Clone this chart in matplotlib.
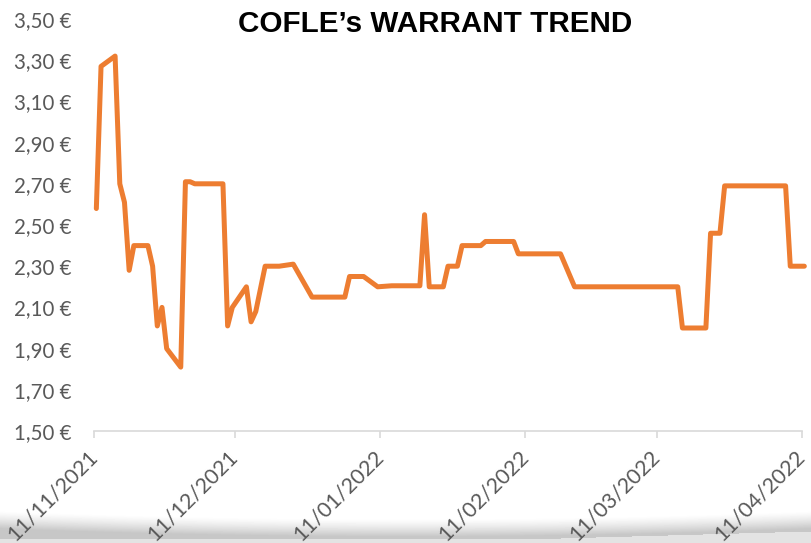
import datetime as dt
import numpy as np
import matplotlib
matplotlib.use("Agg")
import matplotlib.pyplot as plt
from matplotlib.transforms import ScaledTranslation

plt.rcParams['font.family'] = ['Lato', 'DejaVu Sans']

# warrant price
dates = ['2021-11-11', '2021-11-12', '2021-11-15', '2021-11-16', '2021-11-17',
         '2021-11-18', '2021-11-19', '2021-11-22', '2021-11-23', '2021-11-24',
         '2021-11-25', '2021-11-26', '2021-11-29', '2021-11-30', '2021-12-01',
         '2021-12-02', '2021-12-08', '2021-12-09', '2021-12-10', '2021-12-13',
         '2021-12-14', '2021-12-15', '2021-12-17', '2021-12-20', '2021-12-23',
         '2021-12-27', '2022-01-03', '2022-01-04', '2022-01-07', '2022-01-10',
         '2022-01-13', '2022-01-19', '2022-01-20', '2022-01-21', '2022-01-24',
         '2022-01-25', '2022-01-27', '2022-01-28', '2022-02-01', '2022-02-02',
         '2022-02-08', '2022-02-09', '2022-02-18', '2022-02-21', '2022-03-15',
         '2022-03-16', '2022-03-21', '2022-03-22', '2022-03-24', '2022-03-25',
         '2022-04-07', '2022-04-08', '2022-04-11']
prices = [2.58, 3.27, 3.32, 2.70, 2.61,
          2.28, 2.40, 2.40, 2.30, 2.01,
          2.10, 1.90, 1.81, 2.71, 2.71,
          2.70, 2.70, 2.01, 2.10, 2.20,
          2.03, 2.08, 2.30, 2.30, 2.31,
          2.15, 2.15, 2.25, 2.25, 2.20,
          2.205, 2.205, 2.55, 2.20, 2.20,
          2.30, 2.30, 2.40, 2.40, 2.42,
          2.42, 2.36, 2.36, 2.20, 2.20,
          2.00, 2.00, 2.46, 2.46, 2.69,
          2.69, 2.30, 2.30]
tick_dates = ['2021-11-11', '2021-12-11', '2022-01-11', '2022-02-11',
              '2022-03-11', '2022-04-11']
y_ticks = [1.5, 1.7, 1.9, 2.1, 2.3, 2.5, 2.7, 2.9, 3.1, 3.3, 3.5]

to_date = lambda s: dt.datetime.strptime(s, '%Y-%m-%d')
# points sit in the middle of their day, ticks on the day boundary
x = [to_date(d) + dt.timedelta(hours=12) for d in dates]
xt = [to_date(d) for d in tick_dates]

W, H = 812, 543
fig = plt.figure(figsize=(W / 100, H / 100), dpi=100)

# soft grey shadow along the bottom edge
yy, xx = np.mgrid[0:H, 0:W]
u = (xx - W / 2) / (W / 2)
top = 518 - 8 * u ** 2
low = 538 - 7 * np.clip((xx - 560) / 250, 0, 1)
shade = np.clip((yy - top) / 18, 0, 1) ** 1.3 * 0.22
shade = np.where(yy > low, 0.11, shade)
bg = fig.add_axes([0, 0, 1, 1], zorder=-1)
bg.imshow(1 - shade, cmap='gray', vmin=0, vmax=1, extent=[0, W, H, 0], aspect='auto')
bg.axis('off')

ax = fig.add_axes([94 / W, 1 - 431 / H, 708 / W, 412 / H])
ax.patch.set_alpha(0)
ax.plot(x, prices, color='#ED7D31', lw=3.6, solid_joinstyle='round',
        solid_capstyle='round', clip_on=False)

ax.set_xlim(xt[0], xt[-1])
ax.set_ylim(1.5, 3.5)
ax.set_yticks(y_ticks)
ax.set_yticklabels([f"{v:.2f} €".replace('.', ',') for v in y_ticks])
ax.set_xticks(xt)
ax.set_xticklabels([d.strftime('%d/%m/%Y') for d in xt], rotation=45,
                   ha='right', va='center', rotation_mode='anchor')
for lab in ax.get_xticklabels():
    lab.set_transform(lab.get_transform() + ScaledTranslation(0.15, 0, fig.dpi_scale_trans))

for s in ('top', 'right', 'left'):
    ax.spines[s].set_visible(False)
ax.spines['bottom'].set_color('#d9d9d9')
ax.spines['bottom'].set_linewidth(1.2)
ax.tick_params(axis='y', length=0, pad=16, labelcolor='#595959', labelsize=14.8)
ax.tick_params(axis='x', length=5, width=1.2, color='#d9d9d9', pad=11,
               labelcolor='#595959', labelsize=15.5)

fig.text(435 / W, 1 - 24 / H, "COFLE’s WARRANT TREND", ha='center', va='center',
         fontsize=21.3, fontweight='bold', family=['Liberation Sans', 'DejaVu Sans'])

fig.savefig('out.png', dpi=100)
